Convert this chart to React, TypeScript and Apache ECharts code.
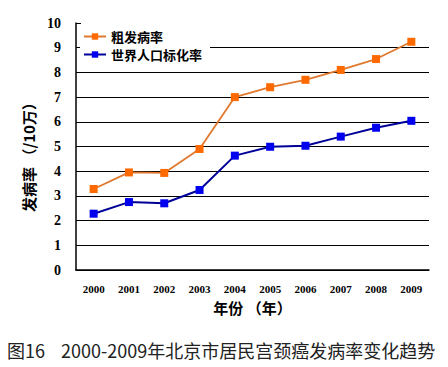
import React, { useEffect, useRef } from "react";
import * as echarts from "echarts";

const years = ["2000", "2001", "2002", "2003", "2004", "2005", "2006", "2007", "2008", "2009"];
const crudeRate = [3.28, 3.95, 3.93, 4.9, 7.0, 7.4, 7.7, 8.1, 8.54, 9.24];
const standardizedRate = [2.28, 2.75, 2.7, 3.24, 4.63, 4.99, 5.03, 5.4, 5.76, 6.04];
const seriesNames = ["粗发病率", "世界人口标化率"];
const caption = "图16    2000-2009年北京市居民宫颈癌发病率变化趋势";

const cjk = "'Noto Sans CJK SC', sans-serif";
const serif = "'Liberation Serif', 'DejaVu Serif', serif";

export default function App() {
  const ref = useRef<HTMLDivElement>(null);
  useEffect(() => {
    if (!ref.current) return;
    const chart = echarts.init(ref.current, null, { renderer: "svg" });
    chart.setOption({
      animation: false,
      backgroundColor: "#fff",
      title: {
        text: caption,
        left: 2,
        top: 336,
        textStyle: { fontFamily: cjk, fontSize: 18, fontWeight: "normal", color: "#222" },
      },
      legend: {
        orient: "vertical",
        left: 80,
        top: 27,
        itemWidth: 22,
        itemHeight: 8,
        itemGap: 5,
        padding: [3, 8, 3, 3],
        backgroundColor: "#fff",
        textStyle: { fontFamily: cjk, fontSize: 13, fontWeight: "bold", color: "#000" },
        data: seriesNames,
      },
      grid: { left: 76, right: 19, top: 23, bottom: 97, containLabel: false },
      xAxis: {
        type: "category",
        data: years,
        boundaryGap: true,
        name: "年份 （年）",
        nameLocation: "middle",
        nameGap: 30,
        nameTextStyle: { fontFamily: cjk, fontSize: 15, fontWeight: "bold", color: "#000" },
        axisLine: { lineStyle: { color: "#000", width: 1.5 } },
        axisTick: { inside: true, length: 4, lineStyle: { color: "#000" } },
        axisLabel: { fontFamily: serif, fontSize: 11, fontWeight: "bold", color: "#000", margin: 13 },
      },
      yAxis: {
        type: "value",
        min: 0,
        max: 10,
        interval: 1,
        name: "发病率 （/10万）",
        nameLocation: "middle",
        nameGap: 40,
        nameRotate: 90,
        nameTextStyle: { fontFamily: cjk, fontSize: 15, fontWeight: "bold", color: "#000", padding: [0, 0, 0, -14] },
        axisLine: { show: true, lineStyle: { color: "#000", width: 1.5 } },
        axisTick: { show: true, inside: true, length: 5, lineStyle: { color: "#000" } },
        axisLabel: { fontFamily: serif, fontSize: 14, fontWeight: "bold", color: "#000", margin: 15 },
        splitLine: { show: true, showMaxLine: false, lineStyle: { color: "#000", width: 1.2 } },
      },
      series: [
        {
          name: seriesNames[0],
          type: "line",
          data: crudeRate,
          symbol: "rect",
          symbolSize: 8,
          lineStyle: { color: "#E0782E", width: 1.8 },
          itemStyle: { color: "#FF6A00" },
          z: 3,
        },
        {
          name: seriesNames[1],
          type: "line",
          data: standardizedRate,
          symbol: "rect",
          symbolSize: 8,
          lineStyle: { color: "#000099", width: 2 },
          itemStyle: { color: "#0000EE" },
          z: 3,
        },
      ],
    });
    return () => chart.dispose();
  }, []);
  return <div ref={ref} style={{ width: 448, height: 367, position: "absolute", left: 0, top: 0 }} />;
}
